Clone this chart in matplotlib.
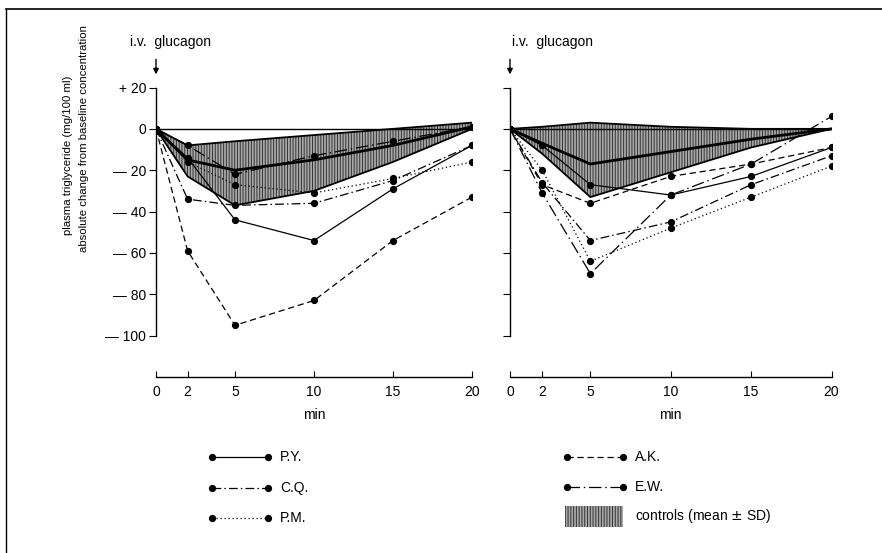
import matplotlib
matplotlib.use("Agg")
import matplotlib.pyplot as plt
from matplotlib.lines import Line2D
from matplotlib.patches import Rectangle

# ---------------- data ----------------
t = [0, 2, 5, 10, 15, 20]
x_ticks = [0, 2, 5, 10, 15, 20]
y_ticks = [20, 0, -20, -40, -60, -80, -100]
y_tick_labels = ["+ 20", "0", "— 20", "— 40", "— 60", "— 80", "— 100"]

patients = ["P.Y.", "C.Q.", "P.M.", "A.K.", "E.W."]

# left panel
left_PY = [0, -14, -44, -54, -29, -8]
left_CQ = [0, -34, -37, -36, -25, -8]
left_PM = [0, -16, -27, -31, -24, -16]
left_AK = [0, -59, -95, -83, -54, -33]
left_EW = [0, -8, -22, -13, -6, 1]
left_ctrl_mean = [0, -15, -20, -15, -8, 1]
left_ctrl_upper = [0, -8, -6, -3, 0, 3]
left_ctrl_lower = [0, -23, -37, -30, -16, 0]

# right panel
right_PY = [0, -8, -27, -32, -23, -9]
right_CQ = [0, -26, -54, -45, -27, -13]
right_PM = [0, -20, -64, -48, -33, -18]
right_AK = [0, -27, -36, -23, -17, -9]
right_EW = [0, -31, -70, -32, -17, 6]
right_ctrl_mean = [0, -7, -17, -11, -5, 0]
right_ctrl_upper = [0, 1, 3, 1, 0, 0]
right_ctrl_lower = [0, -12, -33, -21, -9, 0]

styles = {
    "P.Y.": dict(linestyle="-"),
    "C.Q.": dict(linestyle=(0, (7, 2.5, 1.2, 2.5))),
    "P.M.": dict(linestyle=(0, (1, 2.2))),
    "A.K.": dict(linestyle=(0, (5, 3))),
    "E.W.": dict(linestyle=(0, (10, 3, 1.2, 3))),
}

fig = plt.figure(figsize=(8.82, 5.53), dpi=100)
plt.rcParams['font.family'] = ['Liberation Sans', 'DejaVu Sans']
plt.rcParams['hatch.color'] = '#333333'
plt.rcParams['hatch.linewidth'] = 0.7

W, H = 882, 553
def fx(px):
    return px / W
def fy(py):
    return 1 - py / H

axL = fig.add_axes([fx(156), fy(377), fx(472) - fx(156), fy(87.5) - fy(377)])
axR = fig.add_axes([fx(510), fy(377), fx(831.5) - fx(510), fy(87.5) - fy(377)])

BAND_FC = "#a8a8a8"
BAND_HATCH = "||||||"

def draw_panel(ax, series, mean, upper, lower, labels):
    ax.set_xlim(0, 20)
    ax.set_ylim(-120, 20)
    ax.fill_between(t, lower, upper, facecolor=BAND_FC, hatch=BAND_HATCH,
                    edgecolor="#333333", linewidth=0, zorder=1)
    ax.plot(t, upper, color="black", lw=1.3, zorder=2)
    ax.plot(t, lower, color="black", lw=1.3, zorder=2)
    ax.plot(t, mean, color="black", lw=2.0, zorder=3)
    ax.plot([0, 20], [0, 0], color="black", lw=1.0, zorder=2)
    for name, vals in series:
        ax.plot(t, vals, color="black", lw=0.9, marker="o", markersize=4.2,
                zorder=4, **styles[name])
    for s in ["top", "right"]:
        ax.spines[s].set_visible(False)
    ax.spines["left"].set_bounds(-100, 20)
    ax.spines["left"].set_linewidth(1.0)
    ax.spines["bottom"].set_linewidth(1.0)
    ax.set_xticks(x_ticks)
    ax.set_xticklabels([str(v) for v in x_ticks], fontsize=10)
    ax.tick_params(axis="x", direction="in", length=4, width=0.8, pad=6)
    ax.set_yticks(y_ticks)
    ax.tick_params(axis="y", direction="out", length=5, width=0.8, pad=2)
    if labels:
        ax.set_yticklabels(y_tick_labels, fontsize=10)
    else:
        ax.set_yticklabels([])
    ax.set_xlabel("min", fontsize=10, labelpad=6)
    ax.patch.set_alpha(0)

draw_panel(axL, [("P.Y.", left_PY), ("C.Q.", left_CQ), ("P.M.", left_PM),
                 ("A.K.", left_AK), ("E.W.", left_EW)],
           left_ctrl_mean, left_ctrl_upper, left_ctrl_lower, True)
draw_panel(axR, [("P.Y.", right_PY), ("C.Q.", right_CQ), ("P.M.", right_PM),
                 ("A.K.", right_AK), ("E.W.", right_EW)],
           right_ctrl_mean, right_ctrl_upper, right_ctrl_lower, False)

# arrows and "i.v. glucagon"
for ax, tx in [(axL, fx(130)), (axR, fx(512))]:
    ax.annotate("", xy=(0, 25), xytext=(0, 35), xycoords="data",
                arrowprops=dict(arrowstyle="-|>", color="black", lw=1.0,
                                mutation_scale=8),
                annotation_clip=False)
    fig.text(tx, fy(42), "i.v.  glucagon", fontsize=10, ha="left", va="center")

# y label
fig.text(fx(68), fy(155), "plasma triglyceride (mg/100 ml)", rotation=90,
         fontsize=8.2, ha="center", va="center")
fig.text(fx(84), fy(139), "absolute change from baseline concentration",
         rotation=90, fontsize=8.2, ha="center", va="center")

# legend
def legend_row(x0, x1, y, name):
    ln = Line2D([fx(x0), fx(x1)], [fy(y), fy(y)], transform=fig.transFigure,
                color="black", lw=0.9, marker="o", markersize=4.2,
                **styles[name])
    fig.add_artist(ln)
    fig.text(fx(x1 + 12), fy(y), name, fontsize=10, ha="left", va="center")

legend_row(212, 268, 457, "P.Y.")
legend_row(212, 268, 488, "C.Q.")
legend_row(212, 268, 518, "P.M.")
legend_row(567, 623, 457, "A.K.")
legend_row(567, 623, 487, "E.W.")
rect = Rectangle((fx(565), fy(527)), fx(623) - fx(565), fy(506) - fy(527),
                 transform=fig.transFigure, facecolor=BAND_FC,
                 hatch=BAND_HATCH, edgecolor="#333333", linewidth=0)
fig.add_artist(rect)
fig.text(fx(635), fy(516), "controls (mean $\\pm$ SD)", fontsize=10,
         ha="left", va="center")

# partial frame (top and left)
fig.add_artist(Line2D([fx(6), 1], [fy(8.5), fy(8.5)], transform=fig.transFigure,
                      color="black", lw=1.2))
fig.add_artist(Line2D([fx(6), fx(6)], [fy(8.5), 0], transform=fig.transFigure,
                      color="black", lw=1.0))

fig.savefig("out.png", dpi=100)
